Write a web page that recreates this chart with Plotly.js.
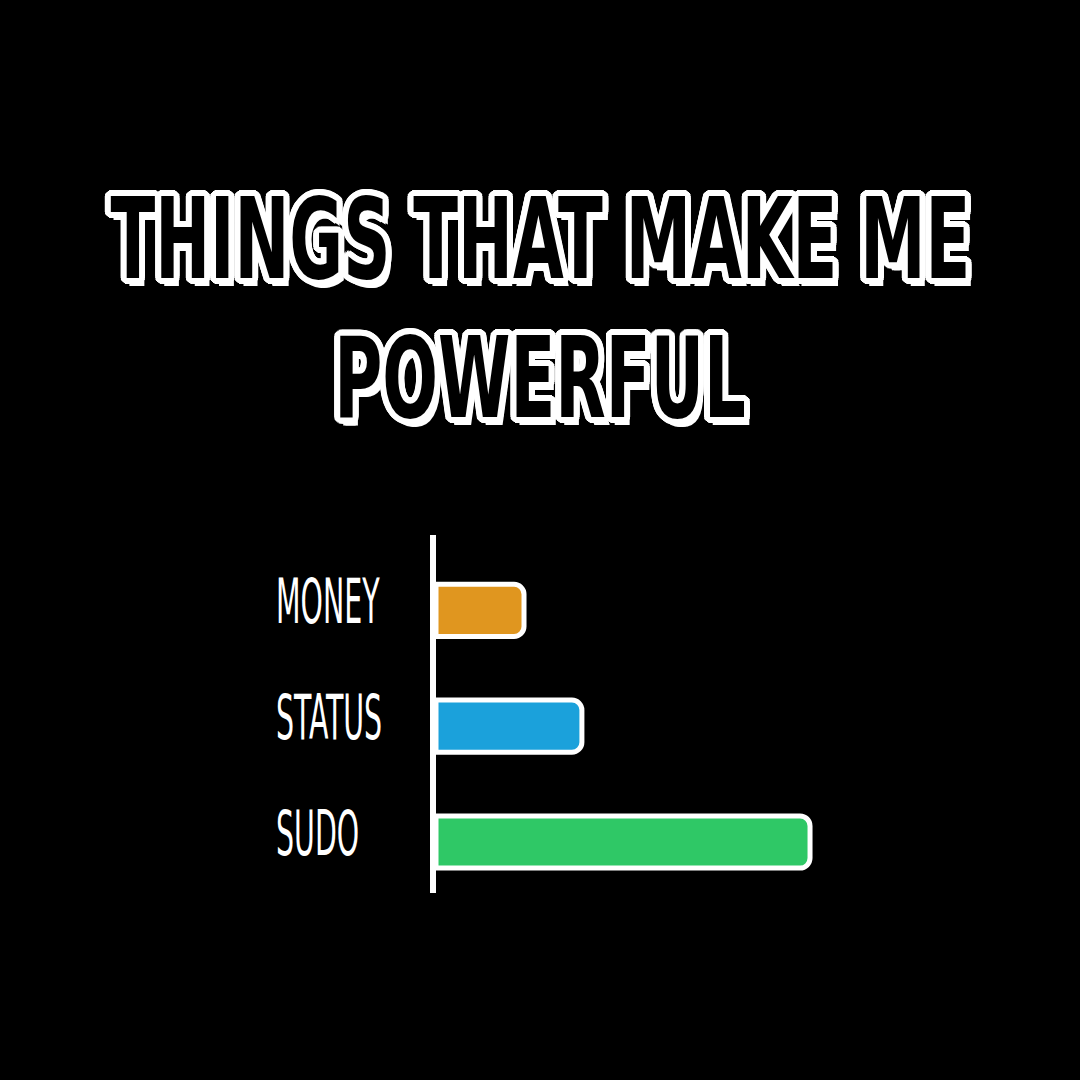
<!DOCTYPE html>
<html>
<head>
<meta charset="utf-8">
<script src="https://cdn.plot.ly/plotly-3.0.1.min.js"></script>
<style>html,body{margin:0;padding:0;background:#000;}#chart{width:1080px;height:1080px;}</style>
</head>
<body>
<div id="chart"></div>
<script>
const categories = ["MONEY", "STATUS", "SUDO"];
const values = [22.8, 37.8, 96.9];
const barColors = ["#E0961F", "#1BA1DB", "#2FC866"];
const titleLines = ["THINGS THAT MAKE ME", "POWERFUL"];

const trace = {
  type: "bar",
  orientation: "h",
  y: categories,
  x: values,
  width: 0.45,
  marker: { color: barColors, line: { color: "#fff", width: 5 }, cornerradius: 10 },
  hoverinfo: "none"
};

const labelAnns = categories.map((c) => ({
  text: c, x: 0, xref: "paper", xshift: -162, xanchor: "left",
  y: c, yref: "y", yanchor: "middle", yshift: 9, showarrow: false,
  font: { family: "DejaVu Sans Condensed, DejaVu Sans", size: 62, color: "#fff" }
}));

const titleY = [1.827, 1.4385];
const titleAnns = titleLines.map((t, i) => ({
  text: t, x: 0.5, xref: "paper", xanchor: "center", xshift: 540 - (436 + 386 / 2),
  y: titleY[i], yref: "paper", yanchor: "middle", showarrow: false,
  font: { family: "DejaVu Sans Condensed, DejaVu Sans", weight: 700, size: 112, color: "#000" }
}));

const layout = {
  width: 1080, height: 1080,
  paper_bgcolor: "#000", plot_bgcolor: "#000",
  margin: { l: 436, r: 258, t: 535, b: 187 },
  showlegend: false,
  xaxis: { range: [0, 100], showgrid: false, zeroline: false, showticklabels: false, showline: false, fixedrange: true },
  yaxis: {
    type: "category", range: [2.44, -0.65], showgrid: false, zeroline: false,
    showticklabels: false, showline: true, linecolor: "#fff", linewidth: 6, ticks: ""
  },
  annotations: titleAnns.concat(labelAnns)
};

function outlineShadow(r, sx) {
  const parts = [];
  for (let k = 0; k < 24; k++) {
    const a = (k / 24) * 2 * Math.PI;
    parts.push(`${(r * Math.cos(a) / sx).toFixed(2)}px ${(r * Math.sin(a)).toFixed(2)}px 0 #fff`);
  }
  parts.push(`${(r * 0.9 / sx).toFixed(2)}px ${(r * 1.3).toFixed(2)}px 0 #fff`);
  parts.push(`${(r * 0.5 / sx).toFixed(2)}px ${(r * 1.4).toFixed(2)}px 0 #fff`);
  return parts.join(",");
}

const gd = document.getElementById("chart");
Plotly.newPlot(gd, [trace], layout, { displayModeBar: false, staticPlot: true }).then(() => {
  const els = gd.querySelectorAll(".annotation-text");
  // condense text horizontally to mimic the narrow hand-drawn fonts
  const t0 = els[0].getBBox();
  const sTitle = 860 / t0.width;
  const l0 = els[2].getBBox();
  const sLabel = 104 / l0.width;
  els.forEach((el, i) => {
    const b = el.getBBox();
    if (i < 2) {
      const cx = b.x + b.width / 2;
      el.setAttribute("transform", `translate(${cx},0) scale(${sTitle},1) translate(${-cx},0)`);
      el.style.textShadow = outlineShadow(5, sTitle);
    } else {
      const lx = b.x;
      el.setAttribute("transform", `translate(${lx},0) scale(${sLabel},1) translate(${-lx},0)`);
    }
  });
});
</script>
</body>
</html>
